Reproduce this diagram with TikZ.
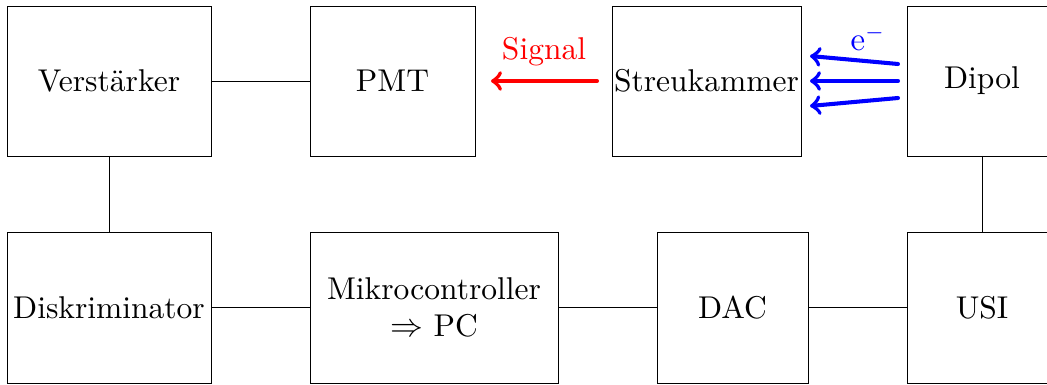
\documentclass[tikz,border=0pt]{standalone}
\begin{document}
\begin{tikzpicture}[x=0.33333pt,y=-0.33333pt,
  every node/.style={font=\fontsize{10.5}{12.4}\selectfont},
  box/.style={draw,line width=0.3pt,rectangle,inner sep=0pt,outer sep=0pt,minimum height=50pt,align=center},
  conn/.style={draw,line width=0.3pt},
  sig/.style={->,line width=1.35pt,line cap=round},
]
\useasboundingbox (0,0) rectangle (1047,385);
\node[box,minimum width=68pt] (ver) at (109,81) {Verst\"arker};
\node[box,minimum width=55pt] (pmt) at (392.5,81) {PMT};
\node[box,minimum width=63pt] (streu) at (706.5,81) {Streukammer};
\node[box,minimum width=50pt] (dip) at (982,81) {Dipol};
\node[box,minimum width=68pt,minimum height=50.33pt] (dis) at (109,307.5) {Diskriminator};
\node[box,minimum width=82.67pt,minimum height=50.33pt] (mik) at (434,307.5) {Mikrocontroller\\$\Rightarrow$ PC};
\node[box,minimum width=50.33pt,minimum height=50.33pt] (dac) at (732.5,307.5) {DAC};
\node[box,minimum width=50pt,minimum height=50.33pt] (usi) at (982,307.5) {USI};
\draw[conn] (ver) -- (pmt);
\draw[conn] (ver) -- (dis);
\draw[conn] (dis) -- (mik);
\draw[conn] (mik) -- (dac);
\draw[conn] (dac) -- (usi);
\draw[conn] (dip) -- (usi);
\coordinate (s1) at (597,81);
\coordinate (s2) at (491,81);
\draw[sig,red] (s1) -- (s2);
\node[red] (siglab) at (544,52) {Signal};
\coordinate (a1) at (898,64); \coordinate (b1) at (810,56);
\coordinate (a2) at (898,81); \coordinate (b2) at (810,81);
\coordinate (a3) at (898,98); \coordinate (b3) at (810,106);
\draw[sig,blue] (a1) -- (b1);
\draw[sig,blue] (a2) -- (b2);
\draw[sig,blue] (a3) -- (b3);
\node[blue] (elab) at (868,38) {$\mathrm{e}^-$};
\end{tikzpicture}
\end{document}
